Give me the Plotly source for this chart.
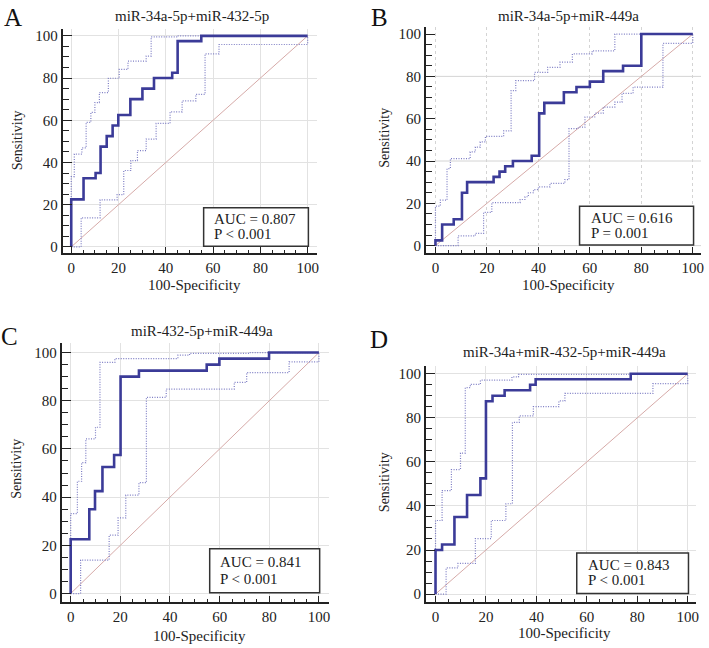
import plotly.graph_objects as go

# ---------------- data (ROC step corners) ----------------
titles = ["miR-34a-5p+miR-432-5p", "miR-34a-5p+miR-449a",
          "miR-432-5p+miR-449a", "miR-34a+miR-432-5p+miR-449a"]
letters = ["A", "B", "C", "D"]
auc_text = ["AUC = 0.807", "AUC = 0.616", "AUC = 0.841", "AUC = 0.843"]
p_text = ["P < 0.001", "P = 0.001", "P < 0.001", "P < 0.001"]
tick_vals = [0, 20, 40, 60, 80, 100]

A_x = [0, 0, 5.2, 10.3, 12.4, 15, 17.5, 19.9, 25, 30.1, 35, 42.7, 45, 55, 100]
A_y = [0, 22.5, 32.5, 35, 47.5, 52.5, 57.5, 62.5, 70, 75, 80, 82.5, 97.5, 100, 100]
A_up_x = [0, 0, 1.3, 4.5, 6.3, 8.3, 10, 11.9, 15.7, 20.3, 24, 31.7, 33.8, 45, 100]
A_up_y = [0, 33.3, 44, 46.9, 59, 63.7, 68.4, 73.1, 79.9, 84.1, 88, 90.4, 99.5, 100, 100]
A_lo_x = [0, 4.2, 12.2, 19.4, 22.2, 25.2, 28, 31.7, 35.9, 41.8, 46.9, 52.7, 56.6, 62.5, 100]
A_lo_y = [0, 13.8, 22.3, 24.8, 36.2, 40.9, 45.6, 51.1, 58.5, 64, 69.2, 72.3, 91.5, 95.9, 100]

B_x = [0, 0, 2.6, 7.1, 10.3, 12.3, 22.6, 24.9, 27.1, 30.1, 37.4, 40.3, 42.3, 49.9, 54.8, 60, 65.2, 72.9, 80, 100]
B_y = [0, 2.5, 10, 12.5, 25, 30, 32.5, 35, 37.5, 40, 42.5, 62.5, 67.5, 72.5, 75, 77.5, 82.5, 85, 100, 100]
B_up_x = [0, 0, 1.9, 4.5, 5.8, 13.5, 15.5, 17.4, 19.4, 26.5, 29.4, 31.2, 38.5, 43.6, 48.4, 53.2, 60.9, 69.7, 100]
B_up_y = [0, 18.7, 21.5, 36.4, 41.1, 44.3, 46.6, 49, 51.6, 54.2, 73.3, 78, 81.9, 84.3, 86.7, 90.6, 92.1, 100, 100]
B_lo_x = [0, 8.8, 15.5, 18.7, 21.9, 32.9, 34.8, 36.1, 38.1, 40, 44.5, 50.3, 51.9, 55.5, 58.1, 61.9, 65.2, 69.7, 72.5, 76.8, 88.4, 100]
B_lo_y = [0, 4.6, 5.8, 15.7, 20.3, 21.8, 23.1, 25, 26.5, 27.8, 29.4, 31.2, 55.3, 56, 60.8, 62.6, 65.5, 67.8, 72, 74.9, 95.6, 100]

C_x = [0, 0, 7.5, 9.8, 12.8, 17.5, 20.1, 27.5, 54.8, 59.9, 79.9, 100]
C_y = [0, 22.5, 35, 42.5, 52.5, 57.5, 90, 92.5, 95, 97.5, 100, 100]
C_up_x = [0, 0, 2.7, 4.4, 6.1, 10, 11.8, 17.8, 43.2, 47.9, 72, 100]
C_up_y = [0, 33.2, 46.6, 54.3, 64.2, 69, 95.9, 97.5, 98.9, 99.7, 100, 100]
C_lo_x = [0, 4, 15.5, 19.1, 22.2, 27.5, 30.5, 38.5, 65.9, 70.9, 88, 100]
C_lo_y = [0, 13.9, 24.2, 31.4, 40.8, 46, 81.4, 84.8, 87.6, 91.7, 96.1, 100]

D_x = [0, 0, 2.6, 7.5, 12.5, 17.8, 20, 22.6, 27.4, 37.5, 39.7, 77.4, 100]
D_y = [0, 20, 22.5, 35, 45, 52.5, 87.5, 90, 92.5, 95, 97.5, 100, 100]
D_up_x = [0, 0, 2.6, 6.3, 9.9, 11.8, 13.8, 17.8, 30.3, 32.9, 100]
D_up_y = [0, 33.4, 47, 56.5, 64, 93.7, 95.2, 97.1, 98.6, 99.7, 100]
D_lo_x = [0, 4.2, 8.9, 15.8, 22.1, 27.9, 30.5, 33.2, 38.8, 48.9, 51.3, 86.2, 100]
D_lo_y = [0, 11.9, 13.9, 25.2, 33.4, 41, 77.9, 80.9, 85.1, 87.7, 91.1, 95.5, 100]

diag = [0, 100]

curves = [(A_x, A_y, A_up_x, A_up_y, A_lo_x, A_lo_y),
          (B_x, B_y, B_up_x, B_up_y, B_lo_x, B_lo_y),
          (C_x, C_y, C_up_x, C_up_y, C_lo_x, C_lo_y),
          (D_x, D_y, D_up_x, D_up_y, D_lo_x, D_lo_y)]

# ---------------- layout geometry (pixels) ----------------
W, H = 709, 648
# (left, right, top, bottom) of each plot area in pixels
boxes = [(63, 318, 28, 253), (428, 704, 26, 253), (62, 330, 344, 604), (428, 699, 367, 604)]
xr = [[-3.6, 103.8], [-3.6, 103.2], [-3.6, 103.9], [-3.7, 103.3]]
yr = [[-2.8, 103.3], [-3.4, 103.4], [-3.6, 103.8], [-3.7, 103.4]]

SERIF = "Liberation Serif, Times New Roman, serif"
MAIN = "#3b3b98"
CI = "#7d7dc4"
DIAG = "#d6aaa8"
GRID = "#e2e2e2"

fig = go.Figure()
layout = dict(width=W, height=H, margin=dict(l=0, r=0, t=0, b=0),
              paper_bgcolor="white", plot_bgcolor="white", showlegend=False,
              font=dict(family=SERIF, size=14, color="#222"))
annotations = []
shapes = []

for i in range(4):
    sfx = "" if i == 0 else str(i + 1)
    xa, ya = "x" + sfx, "y" + sfx
    l, r, t, b = boxes[i]
    cx, cy, ux, uy, lx, ly = curves[i]
    fig.add_trace(go.Scatter(x=diag, y=diag, mode="lines", xaxis=xa, yaxis=ya,
                             line=dict(color=DIAG, width=1)))
    fig.add_trace(go.Scatter(x=ux, y=uy, mode="lines", xaxis=xa, yaxis=ya, line_shape="hv",
                             line=dict(color=CI, width=1.2, dash="1px,1.5px")))
    fig.add_trace(go.Scatter(x=lx, y=ly, mode="lines", xaxis=xa, yaxis=ya, line_shape="hv",
                             line=dict(color=CI, width=1.2, dash="1px,1.5px")))
    fig.add_trace(go.Scatter(x=cx, y=cy, mode="lines", xaxis=xa, yaxis=ya, line_shape="hv",
                             line=dict(color=MAIN, width=2.6)))

    layout["xaxis" + sfx] = dict(
        domain=[l / W, r / W], range=xr[i], anchor=ya,
        tickmode="array", tickvals=tick_vals, ticks="inside", ticklen=6, tickwidth=1.3,
        tickcolor="#222", showline=True, linecolor="#222", linewidth=1.8, zeroline=False,
        showgrid=True, gridcolor="#d4d4d4" if i == 1 else GRID, gridwidth=1,
        griddash="3px,3px" if i == 1 else "solid",
        minor=dict(dtick=5, tick0=0, ticks="inside", ticklen=3, tickwidth=1, tickcolor="#222", showgrid=False),
        tickfont=dict(family=SERIF, size=15, color="#222"), fixedrange=True)
    layout["yaxis" + sfx] = dict(
        domain=[1 - b / H, 1 - t / H], range=yr[i], anchor=xa,
        tickmode="array", tickvals=tick_vals, ticks="inside", ticklen=9, tickwidth=1.4,
        tickcolor="#222", showline=True, linecolor="#222", linewidth=2.2, zeroline=False,
        showgrid=(i != 1), gridcolor=GRID, gridwidth=1,
        minor=dict(dtick=5, tick0=0, ticks="inside", ticklen=6, tickwidth=1, tickcolor="#222", showgrid=False),
        tickfont=dict(family=SERIF, size=15, color="#222"), fixedrange=True)

    if i == 1:
        for gy in [0, 40, 80]:
            shapes.append(dict(type="line", xref=xa, yref=ya, x0=0, x1=xr[i][1], y0=gy, y1=gy,
                               line=dict(color="#d4d4d4", width=1), layer="below"))

    # AUC box
    shapes.append(dict(type="rect", xref=xa, yref=ya, x0=56, x1=100.3, y0=0.3, y1=18.6,
                       line=dict(color="#333", width=1.5), fillcolor="white", layer="above"))
    annotations.append(dict(xref=xa, yref=ya, x=59.5, y=13.2, text=auc_text[i], showarrow=False,
                            xanchor="left", yanchor="middle", font=dict(family=SERIF, size=15, color="#222")))
    annotations.append(dict(xref=xa, yref=ya, x=59.5, y=6.2, text=p_text[i], showarrow=False,
                            xanchor="left", yanchor="middle", font=dict(family=SERIF, size=15, color="#222")))

# titles, letters, axis titles (pixel positions)
title_pos = [(193, 15), (571, 15), (203, 332), (567, 353)]
letter_pos = [(13, 1), (381, 1), (10, 321), (381, 324)]   # top of text box
xlab_pos = [(195, 285), (571, 285), (200, 638), (567, 635)]
ylab_pos = [(17, 140), (386, 137), (17, 470), (386, 483)]
for i in range(4):
    annotations.append(dict(xref="paper", yref="paper", x=title_pos[i][0] / W, y=1 - title_pos[i][1] / H,
                            text=titles[i], showarrow=False, xanchor="center", yanchor="middle",
                            font=dict(family=SERIF, size=15, color="#222")))
    annotations.append(dict(xref="paper", yref="paper", x=letter_pos[i][0] / W, y=1 - letter_pos[i][1] / H,
                            text=letters[i], showarrow=False, xanchor="center", yanchor="top",
                            font=dict(family=SERIF, size=25, color="#111")))
    annotations.append(dict(xref="paper", yref="paper", x=xlab_pos[i][0] / W, y=1 - xlab_pos[i][1] / H,
                            text="100-Specificity", showarrow=False, xanchor="center", yanchor="middle",
                            font=dict(family=SERIF, size=15, color="#222")))
    annotations.append(dict(xref="paper", yref="paper", x=ylab_pos[i][0] / W, y=1 - ylab_pos[i][1] / H,
                            text="Sensitivity", showarrow=False, xanchor="center", yanchor="middle",
                            textangle=-90, font=dict(family=SERIF, size=14, color="#222")))

layout["annotations"] = annotations
layout["shapes"] = shapes
fig.update_layout(**layout)
fig.write_html("out.html", include_plotlyjs=True, config={"displayModeBar": False},
               post_script="document.body.style.margin='0px';")
